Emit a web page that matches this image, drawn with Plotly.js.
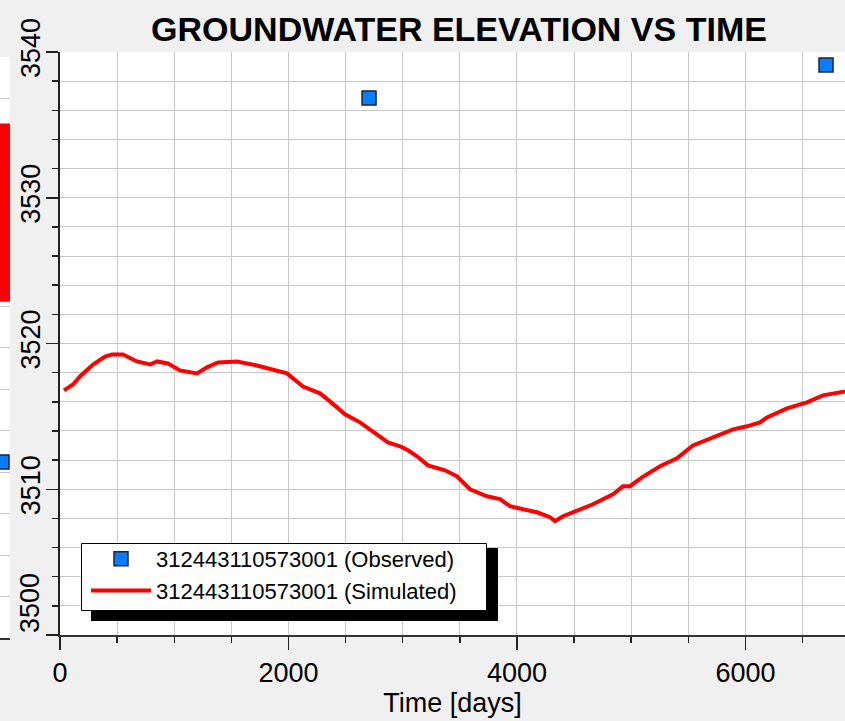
<!DOCTYPE html>
<html>
<head>
<meta charset="utf-8">
<script src="https://cdn.plot.ly/plotly-3.0.1.min.js"></script>
<style>html,body{margin:0;padding:0;background:#f0f0f0;}#chart{width:845px;height:721px;}</style>
</head>
<body>
<div id="chart"></div>
<script>
// Simulated series (time in days, elevation)
const simDays = [35,114,175,289,394,455,551,674,788,849,945,1050,1199,1287,1383,1549,1724,1864,1987,2127,2276,2363,2495,2626,2740,2871,2976,3046,3125,3221,3370,3475,3589,3737,3851,3939,4053,4175,4289,4333,4403,4525,4621,4665,4840,4928,4989,5094,5252,5400,5540,5716,5891,6013,6127,6188,6363,6538,6678,6871];
const simElev = [3516.78,3517.19,3517.74,3518.56,3519.11,3519.25,3519.25,3518.77,3518.56,3518.77,3518.63,3518.15,3517.95,3518.36,3518.70,3518.77,3518.49,3518.22,3517.95,3517.05,3516.58,3516.03,3515.14,3514.59,3513.97,3513.22,3512.95,3512.67,3512.26,3511.64,3511.30,3510.89,3510.00,3509.52,3509.32,3508.84,3508.63,3508.42,3508.08,3507.81,3508.15,3508.56,3508.84,3508.97,3509.66,3510.21,3510.21,3510.82,3511.58,3512.12,3513.01,3513.56,3514.11,3514.32,3514.59,3514.93,3515.55,3515.96,3516.44,3516.71];
// Observed series
const obsDays = [2705, 6705];
const obsElev = [3536.85, 3539.11];
const wellName = "312443110573001";
// Y tick labels (lowest label is drawn nudged up, as in the original)
const yTickVals = [3500, 3510, 3520, 3530, 3540];
const yTickText = ['', '3510', '3520', '3530', '3540'];
const yBottomLabel = '3500';
// Partly visible chart behind, at the left edge
const bgSimX = [5, 5];
const bgSimY = [8.1, 12.4];
const bgObsX = [2];
const bgObsY = [4.24];

const W = 845, H = 721;
const gridCol = '#c8c8c8';

const traces = [
  {x: bgSimX, y: bgSimY, xaxis: 'x2', yaxis: 'y2', mode: 'lines', line: {color: '#ff0000', width: 10}, showlegend: false, hoverinfo: 'skip'},
  {x: bgObsX, y: bgObsY, xaxis: 'x2', yaxis: 'y2', mode: 'markers', marker: {symbol: 'square', size: 14, color: '#0a7cff', line: {color: '#1b2433', width: 1.5}}, cliponaxis: true, showlegend: false, hoverinfo: 'skip'},
  {x: obsDays, y: obsElev, mode: 'markers', name: wellName + ' (Observed)',
   marker: {symbol: 'square', size: 14, color: '#0a7cff', line: {color: '#1b2433', width: 1.5}}},
  {x: simDays, y: simElev, mode: 'lines', name: wellName + ' (Simulated)',
   line: {color: '#ff0000', width: 4}}
];

const layout = {
  width: W, height: H,
  margin: {l: 0, r: 0, t: 0, b: 0},
  paper_bgcolor: '#f0f0f0',
  plot_bgcolor: '#ffffff',
  font: {family: 'Liberation Sans, Arial, sans-serif', color: '#000000'},
  title: {text: 'GROUNDWATER ELEVATION VS TIME', font: {size: 34, family: 'Liberation Sans, Arial, sans-serif', weight: 'bold', color: '#000'},
          xref: 'container', yref: 'container', x: 459/W, y: 1 - 29/H, xanchor: 'center', yanchor: 'middle'},
  showlegend: true,
  legend: {x: 86/W, y: 1 - 538/H, xanchor: 'left', yanchor: 'top', bgcolor: 'rgba(0,0,0,0)', borderwidth: 0,
           font: {size: 22, family: 'Liberation Sans, Arial, sans-serif'}, itemwidth: 60, tracegroupgap: 0},
  xaxis: {domain: [60/W, 1], range: [0, 6871], anchor: 'y', dtick: 2000, tick0: 0,
          showgrid: true, gridcolor: gridCol, gridwidth: 1, zeroline: false,
          showline: true, linecolor: '#333333', linewidth: 2,
          ticks: 'outside', ticklen: 13, tickwidth: 1.5, tickcolor: '#222',
          tickfont: {size: 27},
          minor: {dtick: 500, ticklen: 6, tickcolor: '#222', showgrid: true, gridcolor: gridCol, gridwidth: 1},
          title: {text: 'Time [days]', font: {size: 27}, standoff: 2}},
  yaxis: {domain: [1 - 635/H, 1 - 52/H], range: [3500, 3540], anchor: 'x',
          tickmode: 'array', tickvals: yTickVals, ticktext: yTickText,
          showgrid: true, gridcolor: gridCol, gridwidth: 1, zeroline: false,
          showline: true, linecolor: '#222222', linewidth: 2,
          ticks: 'outside', ticklen: 12, tickwidth: 1.5, tickcolor: '#222',
          tickangle: -90, tickfont: {size: 27}, ticklabelstandoff: -5,
          minor: {tick0: 3500, dtick: 2, ticklen: 6, tickcolor: '#222', showgrid: true, gridcolor: gridCol, gridwidth: 1}},
  xaxis2: {domain: [0, 10/W], range: [0, 10], anchor: 'y2', showgrid: false, zeroline: false, showticklabels: false,
           showline: true, linecolor: '#333', linewidth: 2, ticks: ''},
  yaxis2: {domain: [1 - 638/H, 1 - 57/H], range: [0, 14], anchor: 'x2', dtick: 1, showgrid: true, gridcolor: gridCol,
           zeroline: false, showticklabels: false, showline: false, ticks: ''},
  annotations: [
    {text: yBottomLabel, xref: 'paper', yref: 'paper', x: 30/W, y: 1 - 603/H, xanchor: 'center', yanchor: 'middle',
     textangle: -90, showarrow: false, font: {size: 27, family: 'Liberation Sans, Arial, sans-serif', color: '#000'}}
  ],
  shapes: [
    {type: 'rect', xref: 'paper', yref: 'paper', x0: 91/W, x1: 498/W, y0: 1 - 621/H, y1: 1 - 548/H,
     fillcolor: '#000000', line: {width: 0}, layer: 'above'},
    {type: 'rect', xref: 'paper', yref: 'paper', x0: 81.5/W, x1: 486.5/W, y0: 1 - 610.5/H, y1: 1 - 543.5/H,
     fillcolor: '#ffffff', line: {width: 1, color: '#000000'}, layer: 'above'}
  ],
  hovermode: false
};

Plotly.newPlot('chart', traces, layout, {staticPlot: true, displayModeBar: false});
</script>
</body>
</html>
